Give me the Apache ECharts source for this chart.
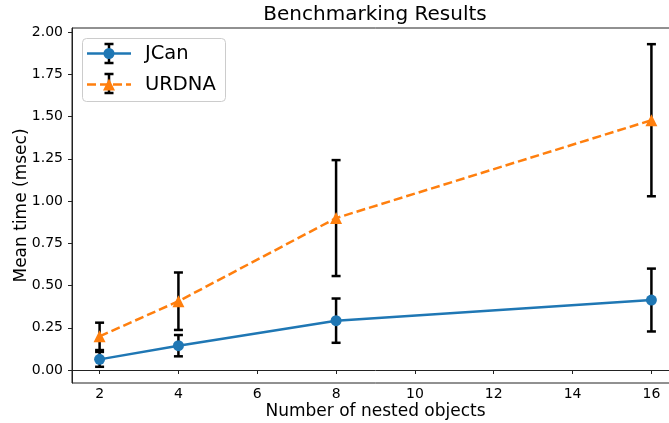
<!DOCTYPE html>
<html>
<head>
<meta charset="utf-8">
<script src="https://cdn.jsdelivr.net/npm/echarts@6/dist/echarts.min.js"></script>
<style>
html,body{margin:0;padding:0;background:#fff;overflow:hidden;width:669px;height:423px;}
#c{width:679px;height:423px;}
</style>
</head>
<body>
<div id="c"></div>
<script>
const nestedObjects = [2, 4, 8, 16];
const jcanMean = [0.063, 0.144, 0.292, 0.414];
const jcanErr = [0.044, 0.063, 0.131, 0.186];
const urdnaMean = [0.199, 0.407, 0.899, 1.478];
const urdnaErr = [0.081, 0.170, 0.343, 0.450];
const xTicks = [2, 4, 6, 8, 10, 12, 14, 16];
const yTicks = [0, 0.25, 0.5, 0.75, 1.0, 1.25, 1.5, 1.75, 2.0];

const FONT = 'DejaVu Sans';
const BLUE = '#1f77b4';
const ORANGE = '#ff7f0e';

function errData(mean, err) {
  return nestedObjects.map((x, i) => [x, mean[i] - err[i], mean[i] + err[i]]);
}
function errRender(params, api) {
  const x = api.value(0);
  const lo = api.coord([x, api.value(1)]);
  const hi = api.coord([x, api.value(2)]);
  const cw = 4.5;
  const st = { stroke: '#000', lineWidth: 2.5 };
  return {
    type: 'group',
    children: [
      { type: 'line', shape: { x1: lo[0], y1: lo[1], x2: hi[0], y2: hi[1] }, style: st },
      { type: 'line', shape: { x1: lo[0] - cw, y1: lo[1], x2: lo[0] + cw, y2: lo[1] }, style: st },
      { type: 'line', shape: { x1: hi[0] - cw, y1: hi[1], x2: hi[0] + cw, y2: hi[1] }, style: st }
    ]
  };
}

const chart = echarts.init(document.getElementById('c'), null, { renderer: 'canvas' });

const legendX = 82, legendY = 38;
const option = {
  animation: false,
  backgroundColor: '#fff',
  grid: { left: 72, right: 0, top: 28, bottom: 40, containLabel: false, outerBoundsMode: 'none',
          show: true, borderColor: '#222', borderWidth: 1, backgroundColor: 'transparent' },
  xAxis: {
    type: 'value', min: 1.3, max: 16.7,
    name: 'Number of nested objects', nameLocation: 'middle', nameGap: 20, nameMoveOverlap: false,
    nameTextStyle: { fontFamily: FONT, fontSize: 17, color: '#000' },
    axisLine: { show: true, lineStyle: { color: '#222', width: 1 } },
    axisTick: { show: true, length: 4, lineStyle: { color: '#222' }, customValues: xTicks },
    axisLabel: { fontFamily: FONT, fontSize: 14, color: '#000', margin: 4, customValues: xTicks },
    splitLine: { show: false }
  },
  yAxis: {
    type: 'value', min: -0.0769, max: 2.0237,
    name: 'Mean time (msec)', nameLocation: 'middle', nameGap: 42, nameRotate: 90, nameMoveOverlap: false,
    nameTextStyle: { fontFamily: FONT, fontSize: 17, color: '#000' },
    axisLine: { show: true, lineStyle: { color: '#222', width: 1 } },
    axisTick: { show: true, length: 4, lineStyle: { color: '#222' }, customValues: yTicks },
    axisLabel: { fontFamily: FONT, fontSize: 14, color: '#000', margin: 9, customValues: yTicks, formatter: v => v.toFixed(2) },
    splitLine: { show: false }
  },
  series: [
    { type: 'custom', name: 'JCan err', data: errData(jcanMean, jcanErr), renderItem: errRender, z: 2, encode: { x: 0, y: [1, 2] } },
    { type: 'custom', name: 'URDNA err', data: errData(urdnaMean, urdnaErr), renderItem: errRender, z: 2, encode: { x: 0, y: [1, 2] } },
    { type: 'line', name: 'JCan', data: nestedObjects.map((x, i) => [x, jcanMean[i]]), z: 3,
      symbol: 'circle', symbolSize: 11, showAllSymbol: true,
      lineStyle: { color: BLUE, width: 2.5 }, itemStyle: { color: BLUE } },
    { type: 'line', name: 'URDNA', data: nestedObjects.map((x, i) => [x, urdnaMean[i]]), z: 4,
      symbol: 'triangle', symbolSize: 12, showAllSymbol: true,
      lineStyle: { color: ORANGE, width: 2.5, type: [9, 4] }, itemStyle: { color: ORANGE } }
  ],
  graphic: [
    { type: 'text', x: 375, y: 15, style: { text: 'Benchmarking Results', font: '20px "DejaVu Sans"', fill: '#000', textAlign: 'center', textVerticalAlign: 'middle' }, z: 10 },
    { type: 'rect', shape: { x: legendX + 0.5, y: legendY + 0.5, width: 143, height: 63, r: 4 }, style: { fill: 'rgba(255,255,255,0.8)', stroke: '#ccc', lineWidth: 1 }, z: 10 },
    { type: 'line', shape: { x1: 87, y1: 53.5, x2: 131, y2: 53.5 }, style: { stroke: BLUE, lineWidth: 2.5 }, z: 11 },
    { type: 'line', shape: { x1: 109, y1: 44, x2: 109, y2: 63 }, style: { stroke: '#000', lineWidth: 2.5 }, z: 11 },
    { type: 'line', shape: { x1: 104.5, y1: 44, x2: 113.5, y2: 44 }, style: { stroke: '#000', lineWidth: 2.5 }, z: 11 },
    { type: 'line', shape: { x1: 104.5, y1: 63, x2: 113.5, y2: 63 }, style: { stroke: '#000', lineWidth: 2.5 }, z: 11 },
    { type: 'circle', shape: { cx: 109, cy: 53.5, r: 5.5 }, style: { fill: BLUE }, z: 12 },
    { type: 'text', x: 145, y: 54, style: { text: 'JCan', font: '19.5px "DejaVu Sans"', fill: '#000', textVerticalAlign: 'middle' }, z: 11 },
    { type: 'line', shape: { x1: 87, y1: 84.5, x2: 131, y2: 84.5 }, style: { stroke: ORANGE, lineWidth: 2.5, lineDash: [9, 4] }, z: 11 },
    { type: 'line', shape: { x1: 109, y1: 74, x2: 109, y2: 93 }, style: { stroke: '#000', lineWidth: 2.5 }, z: 11 },
    { type: 'line', shape: { x1: 104.5, y1: 74, x2: 113.5, y2: 74 }, style: { stroke: '#000', lineWidth: 2.5 }, z: 11 },
    { type: 'line', shape: { x1: 104.5, y1: 93, x2: 113.5, y2: 93 }, style: { stroke: '#000', lineWidth: 2.5 }, z: 11 },
    { type: 'polygon', shape: { points: [[109, 78.5], [103, 90.5], [115, 90.5]] }, style: { fill: ORANGE }, z: 12 },
    { type: 'text', x: 145, y: 85, style: { text: 'URDNA', font: '19.5px "DejaVu Sans"', fill: '#000', textVerticalAlign: 'middle' }, z: 11 }
  ]
};
chart.setOption(option);
</script>
</body>
</html>
